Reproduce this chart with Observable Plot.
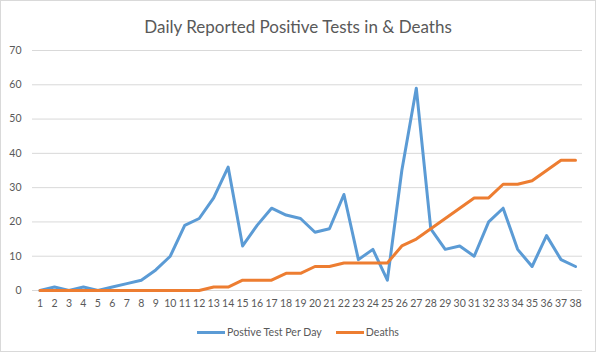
<!DOCTYPE html>
<html><head><meta charset="utf-8">
<script src="https://cdn.jsdelivr.net/npm/d3@7"></script>
<script src="https://cdn.jsdelivr.net/npm/@observablehq/plot@0.6"></script>
<style>
body{margin:0;background:#fff}
#chart{position:relative;width:596px;height:352px;box-sizing:border-box;border:1px solid #d9d9d9;overflow:visible;font-family:Lato, "Open Sans", sans-serif;background:#fff}
#plot{position:absolute;left:-1px;top:-1px;width:596px;height:352px}
#plot svg{max-width:none !important}
#title{position:absolute;left:-1px;width:596px;top:14px;text-align:center;font-size:17px;color:#595959;line-height:24px}
#legend{position:absolute;left:-1px;width:596px;top:323px;display:flex;justify-content:center;align-items:center;font-size:10.6px;color:#595959;line-height:16px}
.item{display:flex;align-items:center;margin:0 7px}
.sw{width:28px;height:3px;margin-right:2px}
</style></head>
<body>
<div id="chart">
  <div id="plot"></div>
  <div id="title">Daily Reported Positive Tests in &amp; Deaths</div>
  <div id="legend"></div>
</div>
<script>
const days = d3.range(1, 39);
const positive = [0,1,0,1,0,1,2,3,6,10,19,21,27,36,13,19,24,22,21,17,18,28,9,12,3,35,59,18,12,13,10,20,24,12,7,16,9,7];
const deaths = [0,0,0,0,0,0,0,0,0,0,0,0,1,1,3,3,3,5,5,7,7,8,8,8,8,13,15,18,21,24,27,27,31,31,32,35,38,38];
const yTicks = [0,10,20,30,40,50,60,70];
const seriesNames = ["Postive Test Per Day", "Deaths"];
const seriesColors = ["#5B9BD5", "#ED7D31"];

const table = days.map((d, i) => ({day: d, positive: positive[i], deaths: deaths[i]}));

const chart = Plot.plot({
  width: 596, height: 352,
  marginLeft: 32, marginRight: 14, marginTop: 50, marginBottom: 62,
  style: {fontFamily: "Lato, 'Open Sans', sans-serif", fontSize: "10.5px", color: "#595959", background: "transparent", maxWidth: "none"},
  x: {type: "point", domain: days, padding: 0, round: false, range: [39.5, 575]},
  y: {domain: [0, 70]},
  marks: [
    Plot.gridY(yTicks, {stroke: "#d9d9d9", strokeOpacity: 1, strokeWidth: 1}),
    Plot.axisY(yTicks, {tickSize: 0, tickPadding: 11, label: null, fill: "#595959"}),
    Plot.axisX(days, {tickSize: 0, tickPadding: 9, label: null, fill: "#595959"}),
    Plot.line(table, {x: "day", y: "positive", stroke: seriesColors[0], strokeWidth: 3}),
    Plot.line(table, {x: "day", y: "deaths", stroke: seriesColors[1], strokeWidth: 3})
  ]
});
document.getElementById("plot").appendChild(chart);

const legend = document.getElementById("legend");
seriesNames.forEach((n, i) => {
  const it = document.createElement("div");
  it.className = "item";
  const sw = document.createElement("div");
  sw.className = "sw";
  sw.style.background = seriesColors[i];
  const t = document.createElement("span");
  t.textContent = n;
  it.appendChild(sw); it.appendChild(t);
  legend.appendChild(it);
});
</script>
</body></html>
